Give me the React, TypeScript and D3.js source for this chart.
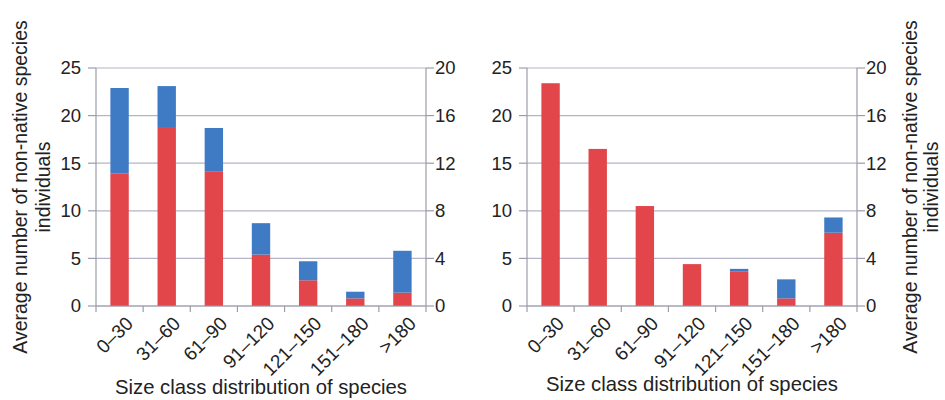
import React from "react";
import * as d3 from "d3";

// Size classes shared by both panels
const categories = ["0–30", "31–60", "61–90", "91–120", "121–150", "151–180", ">180"];

// Left panel: lower (red) and upper (blue) stacked segments
const leftRed = [13.9, 18.8, 14.1, 5.4, 2.7, 0.8, 1.4];
const leftBlue = [9.0, 4.3, 4.6, 3.3, 2.0, 0.7, 4.4];

// Right panel: lower (red) and upper (blue) stacked segments
const rightRed = [23.4, 16.5, 10.5, 4.4, 3.6, 0.8, 7.7];
const rightBlue = [0, 0, 0, 0, 0.3, 2.0, 1.6];

// Axis ticks
const leftTicks = [0, 5, 10, 15, 20, 25];
const rightTicks = [0, 4, 8, 12, 16, 20];

const xTitle = "Size class distribution of species";
const yTitleLines = ["Average number of non-native species", "individuals"];

const W = 945;
const H = 400;
const TOP = 68;
const BOTTOM = 306;
const RED = "#e2464a";
const BLUE = "#3f7bc5";
const GRID = "#b4b4c8";
const AXIS = "#9c9cac";
const TEXT = "#222";
const FONT = "'Liberation Sans', Arial, Helvetica, sans-serif";

type PanelProps = {
  x0: number;
  x1: number;
  red: number[];
  blue: number[];
  titleX: number;
  titleGap: number;
  xTitleY: number;
};

function Panel({ x0, x1, red, blue, titleX, titleGap, xTitleY }: PanelProps) {
  const x = d3
    .scaleBand<string>()
    .domain(categories)
    .range([x0, x1])
    .paddingInner(0.61)
    .paddingOuter(0.305);
  const yL = d3.scaleLinear().domain([0, 25]).range([BOTTOM, TOP]);
  const yR = d3.scaleLinear().domain([0, 20]).range([BOTTOM, TOP]);

  const rows = categories.map((c, i) => ({ cat: c, red: red[i], blue: blue[i] }));
  const series = d3.stack<any>().keys(["red", "blue"])(rows);
  const colors: Record<string, string> = { red: RED, blue: BLUE };

  const catEdges = d3.range(categories.length + 1).map((i) => x0 + (x1 - x0) * (i / categories.length));
  const cx = (c: string) => (x(c) as number) + x.bandwidth() / 2;
  const mid = (x0 + x1) / 2;
  const yMid = (TOP + BOTTOM) / 2;

  return (
    <g>
      {/* horizontal gridlines */}
      {leftTicks.map((t) => (
        <line key={"g" + t} x1={x0} x2={x1} y1={yL(t)} y2={yL(t)} stroke={GRID} strokeWidth={1.2} />
      ))}
      {/* stacked bars */}
      {series.map((s) =>
        s.map((d, i) =>
          d[1] - d[0] > 0 ? (
            <rect
              key={s.key + i}
              x={x(categories[i])}
              width={x.bandwidth()}
              y={yL(d[1])}
              height={yL(d[0]) - yL(d[1])}
              fill={colors[s.key]}
            />
          ) : null
        )
      )}
      {/* axis lines */}
      <line x1={x0} x2={x0} y1={TOP} y2={BOTTOM} stroke={AXIS} strokeWidth={1.2} />
      <line x1={x1} x2={x1} y1={TOP} y2={BOTTOM} stroke={AXIS} strokeWidth={1.2} />
      <line x1={x0} x2={x1} y1={BOTTOM} y2={BOTTOM} stroke={AXIS} strokeWidth={1.2} />
      {/* left axis ticks */}
      {leftTicks.map((t) => (
        <g key={"l" + t}>
          <line x1={x0 - 8} x2={x0} y1={yL(t)} y2={yL(t)} stroke={AXIS} strokeWidth={1.2} />
          <text x={x0 - 15} y={yL(t)} dy="0.35em" textAnchor="end" fontSize={18.5} fill={TEXT}>
            {t}
          </text>
        </g>
      ))}
      {/* right axis ticks */}
      {rightTicks.map((t) => (
        <g key={"r" + t}>
          <line x1={x1} x2={x1 + 8} y1={yR(t)} y2={yR(t)} stroke={AXIS} strokeWidth={1.2} />
          <text x={x1 + 9} y={yR(t)} dy="0.35em" textAnchor="start" fontSize={18.5} fill={TEXT}>
            {t}
          </text>
        </g>
      ))}
      {/* category tick marks */}
      {catEdges.map((e, i) => (
        <line key={"c" + i} x1={e} x2={e} y1={BOTTOM} y2={BOTTOM + 6} stroke={AXIS} strokeWidth={1.2} />
      ))}
      {/* category labels */}
      {categories.map((c) => (
        <text
          key={"t" + c}
          transform={`translate(${cx(c) + 5},${BOTTOM + 9}) rotate(-45)`}
          textAnchor="end"
          dy="0.72em"
          fontSize={19}
          fill={TEXT}
        >
          {c}
        </text>
      ))}
      {/* x title */}
      <text x={mid} y={xTitleY} textAnchor="middle" fontSize={20.3} fill={TEXT}>
        {xTitle}
      </text>
      {/* y title, two lines reading upward */}
      <g transform={`translate(${titleX},${yMid}) rotate(-90)`}>
        {yTitleLines.map((l, i) => (
          <text key={l} x={0} y={i * titleGap} textAnchor="middle" fontSize={19.5} fill={TEXT}>
            {l}
          </text>
        ))}
      </g>
    </g>
  );
}

export default function App() {
  return (
    <svg
      width={W}
      height={H}
      style={{ position: "absolute", left: 0, top: 0, background: "#fff" }}
      fontFamily={FONT}
    >
      <rect width={W} height={H} fill="#fff" />
      <Panel x0={96} x1={426} red={leftRed} blue={leftBlue} titleX={27} titleGap={23} xTitleY={394} />
      <Panel x0={527} x1={857} red={rightRed} blue={rightBlue} titleX={917} titleGap={21} xTitleY={391} />
    </svg>
  );
}
